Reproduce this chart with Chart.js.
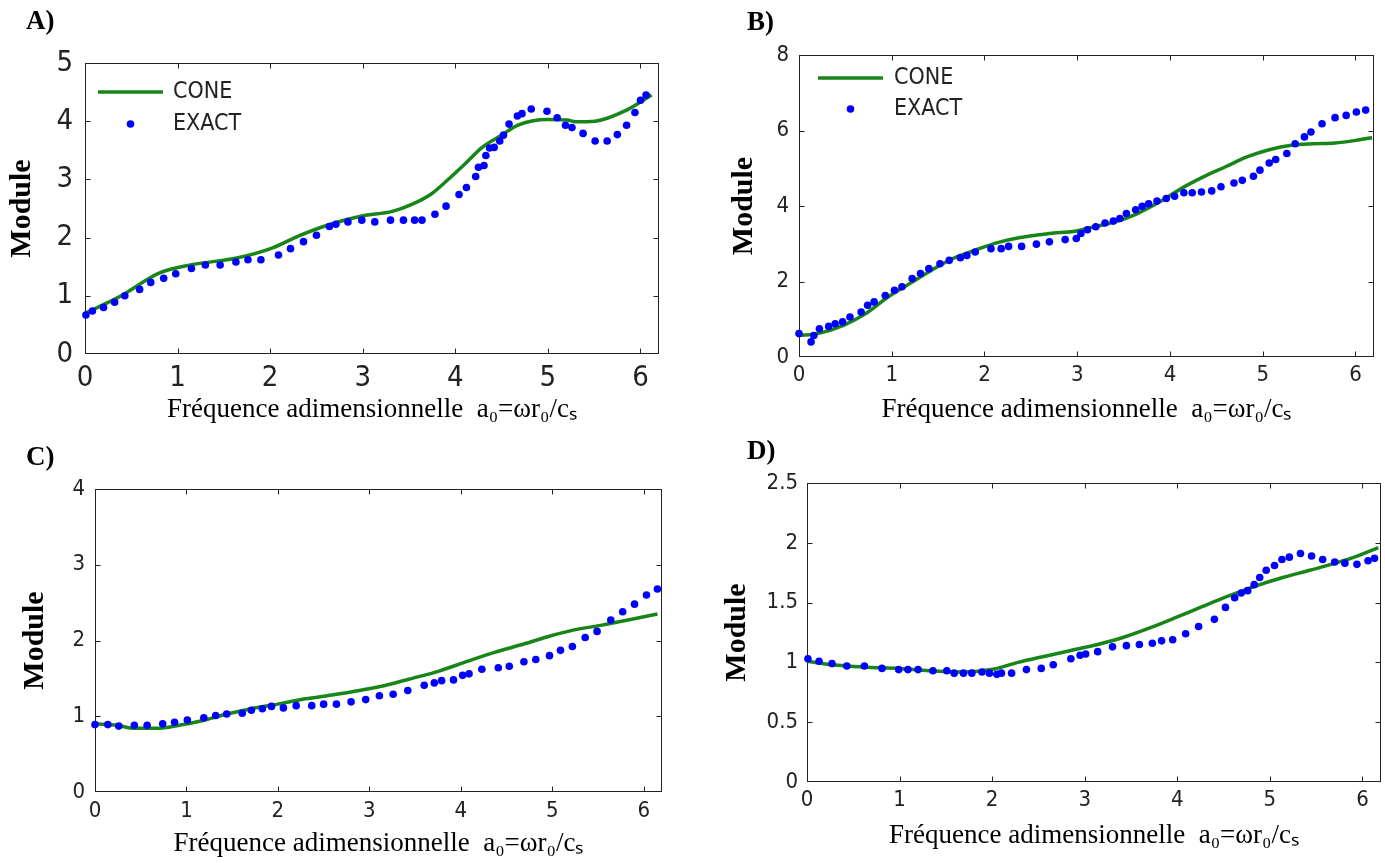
<!DOCTYPE html>
<html lang="fr">
<head>
<meta charset="utf-8">
<title>Module - CONE / EXACT</title>
<script src="https://cdn.jsdelivr.net/npm/chart.js@4.4.1/dist/chart.umd.min.js"></script>
<style>
  html, body { margin: 0; padding: 0; background: #fff; }
  #page { position: relative; width: 1385px; height: 863px; overflow: hidden; }
  .panel { position: absolute; }
  .panel canvas { display: block; }
  .tag { position: absolute; font: bold 27px/27px 'Liberation Serif', 'Times New Roman', serif; color: #000; }
</style>
</head>
<body>
<div id="page">
  <div class="panel" style="left:0;top:0"><canvas id="chartA" width="692" height="432"></canvas></div>
  <div class="panel" style="left:692px;top:0"><canvas id="chartB" width="693" height="432"></canvas></div>
  <div class="panel" style="left:0;top:432px"><canvas id="chartC" width="692" height="431"></canvas></div>
  <div class="panel" style="left:692px;top:432px"><canvas id="chartD" width="693" height="431"></canvas></div>
  <div class="tag" style="left:26px;top:7px">A)</div>
  <div class="tag" style="left:747px;top:8px">B)</div>
  <div class="tag" style="left:26px;top:443px">C)</div>
  <div class="tag" style="left:747px;top:437px">D)</div>
</div>
<script>
// shared axis stuff
const xTicks = [0, 1, 2, 3, 4, 5, 6];
const xMax = 6.2;
const xTitle = 'Fréquence adimensionnelle  a₀=ωr₀/cₛ';
const yTitle = 'Module';
const seriesNames = ['CONE', 'EXACT'];

// A)
const yTicksA = [0, 1, 2, 3, 4, 5];
const freqConeA = [0, 0.38, 0.80, 1.14, 1.64, 2.02, 2.31, 2.65, 2.99, 3.32, 3.53, 3.74, 3.91, 4.12, 4.29, 4.50, 4.67, 5.00, 5.21, 5.30, 5.51, 5.85, 6.12];
const modConeA = [0.70, 0.99, 1.39, 1.53, 1.65, 1.82, 2.03, 2.23, 2.37, 2.45, 2.57, 2.75, 2.98, 3.29, 3.55, 3.76, 3.93, 4.03, 4.02, 3.99, 4.00, 4.19, 4.45];
const freqExactA = [0.01, 0.08, 0.20, 0.32, 0.43, 0.59, 0.71, 0.85, 0.98, 1.15, 1.30, 1.46, 1.63, 1.76, 1.90, 2.09, 2.22, 2.36, 2.50, 2.64, 2.71, 2.84, 2.99, 3.13, 3.30, 3.44, 3.56, 3.64, 3.78, 3.90, 4.04, 4.12, 4.22, 4.25, 4.31, 4.33, 4.37, 4.42, 4.48, 4.52, 4.58, 4.67, 4.72, 4.82, 4.99, 5.10, 5.19, 5.26, 5.38, 5.51, 5.64, 5.75, 5.85, 5.94, 6.00, 6.06];
const modExactA = [0.67, 0.74, 0.80, 0.89, 1.00, 1.11, 1.23, 1.30, 1.38, 1.47, 1.53, 1.53, 1.58, 1.62, 1.62, 1.70, 1.81, 1.93, 2.04, 2.19, 2.23, 2.27, 2.30, 2.27, 2.30, 2.30, 2.30, 2.30, 2.40, 2.54, 2.74, 2.86, 3.05, 3.21, 3.24, 3.41, 3.54, 3.55, 3.66, 3.76, 3.95, 4.09, 4.13, 4.21, 4.17, 4.06, 3.93, 3.89, 3.79, 3.66, 3.66, 3.77, 3.93, 4.15, 4.36, 4.45];

// B)
const yTicksB = [0, 2, 4, 6, 8];
const freqConeB = [0, 0.20, 0.48, 0.72, 0.96, 1.19, 1.43, 1.66, 1.90, 2.14, 2.37, 2.70, 2.99, 3.18, 3.41, 3.65, 3.89, 4.12, 4.36, 4.60, 4.83, 5.07, 5.31, 5.54, 5.78, 6.01, 6.18];
const modConeB = [0.57, 0.62, 0.84, 1.15, 1.59, 1.94, 2.30, 2.61, 2.83, 3.03, 3.16, 3.27, 3.34, 3.45, 3.58, 3.80, 4.11, 4.46, 4.77, 5.04, 5.30, 5.49, 5.61, 5.65, 5.67, 5.74, 5.81];
const freqExactB = [0, 0.13, 0.16, 0.22, 0.32, 0.39, 0.47, 0.55, 0.67, 0.74, 0.81, 0.93, 1.03, 1.11, 1.22, 1.31, 1.40, 1.52, 1.62, 1.74, 1.81, 1.90, 2.07, 2.18, 2.26, 2.40, 2.56, 2.70, 2.87, 2.99, 3.04, 3.11, 3.20, 3.30, 3.39, 3.46, 3.53, 3.63, 3.70, 3.77, 3.86, 3.96, 4.05, 4.15, 4.24, 4.34, 4.45, 4.55, 4.69, 4.78, 4.90, 4.97, 5.07, 5.14, 5.26, 5.35, 5.45, 5.52, 5.64, 5.78, 5.90, 6.01, 6.11];
const modExactB = [0.62, 0.40, 0.57, 0.75, 0.81, 0.88, 0.93, 1.06, 1.19, 1.37, 1.46, 1.63, 1.77, 1.86, 2.08, 2.21, 2.34, 2.47, 2.56, 2.63, 2.69, 2.78, 2.87, 2.87, 2.93, 2.93, 2.99, 3.05, 3.11, 3.14, 3.27, 3.37, 3.45, 3.55, 3.60, 3.67, 3.80, 3.90, 3.99, 4.06, 4.13, 4.20, 4.26, 4.35, 4.35, 4.37, 4.40, 4.51, 4.61, 4.68, 4.79, 4.95, 5.14, 5.23, 5.39, 5.65, 5.83, 5.96, 6.18, 6.34, 6.40, 6.49, 6.54];

// C)
const yTicksC = [0, 1, 2, 3, 4];
const freqConeC = [0, 0.24, 0.43, 0.68, 0.92, 1.17, 1.41, 1.71, 2.00, 2.30, 2.59, 2.89, 3.18, 3.47, 3.77, 4.06, 4.36, 4.65, 4.95, 5.24, 5.53, 5.83, 6.15];
const modConeC = [0.90, 0.88, 0.84, 0.84, 0.88, 0.94, 1.02, 1.10, 1.16, 1.23, 1.28, 1.34, 1.41, 1.50, 1.60, 1.72, 1.84, 1.94, 2.05, 2.14, 2.20, 2.27, 2.35];
const freqExactC = [0, 0.14, 0.26, 0.43, 0.57, 0.74, 0.87, 1.01, 1.19, 1.32, 1.44, 1.61, 1.71, 1.83, 1.93, 2.06, 2.20, 2.37, 2.50, 2.64, 2.80, 2.96, 3.11, 3.26, 3.42, 3.60, 3.71, 3.79, 3.92, 4.02, 4.09, 4.23, 4.41, 4.53, 4.69, 4.82, 4.97, 5.09, 5.22, 5.36, 5.49, 5.64, 5.77, 5.90, 6.03, 6.15];
const modExactC = [0.89, 0.89, 0.87, 0.88, 0.88, 0.90, 0.92, 0.95, 0.98, 1.01, 1.03, 1.04, 1.08, 1.10, 1.13, 1.11, 1.14, 1.14, 1.16, 1.16, 1.19, 1.22, 1.27, 1.29, 1.34, 1.41, 1.44, 1.47, 1.48, 1.54, 1.56, 1.62, 1.64, 1.66, 1.72, 1.75, 1.80, 1.87, 1.92, 2.04, 2.12, 2.27, 2.38, 2.48, 2.60, 2.68];

// D)
const yTicksD = [0, 0.5, 1, 1.5, 2, 2.5];
const freqConeD = [0, 0.27, 0.65, 0.99, 1.32, 1.70, 1.99, 2.28, 2.56, 2.85, 3.14, 3.42, 3.71, 4.00, 4.28, 4.57, 4.85, 5.14, 5.43, 5.71, 5.95, 6.17];
const modConeD = [1.01, 0.98, 0.96, 0.95, 0.93, 0.92, 0.94, 1.00, 1.05, 1.10, 1.15, 1.21, 1.29, 1.38, 1.47, 1.56, 1.64, 1.71, 1.77, 1.83, 1.89, 1.96];
const freqExactD = [0.01, 0.13, 0.27, 0.43, 0.62, 0.81, 0.99, 1.09, 1.20, 1.36, 1.51, 1.59, 1.69, 1.78, 1.89, 1.97, 2.05, 2.10, 2.21, 2.37, 2.53, 2.66, 2.85, 2.95, 3.01, 3.14, 3.30, 3.45, 3.59, 3.73, 3.83, 3.95, 4.09, 4.23, 4.40, 4.52, 4.62, 4.69, 4.76, 4.83, 4.89, 4.96, 5.05, 5.13, 5.21, 5.33, 5.45, 5.57, 5.70, 5.81, 5.94, 6.06, 6.13];
const modExactD = [1.03, 1.01, 0.99, 0.97, 0.97, 0.95, 0.94, 0.94, 0.94, 0.93, 0.93, 0.91, 0.91, 0.91, 0.92, 0.91, 0.90, 0.91, 0.91, 0.94, 0.95, 0.98, 1.03, 1.06, 1.07, 1.09, 1.13, 1.14, 1.15, 1.16, 1.18, 1.19, 1.24, 1.30, 1.36, 1.46, 1.54, 1.58, 1.60, 1.65, 1.71, 1.77, 1.81, 1.86, 1.88, 1.91, 1.89, 1.86, 1.84, 1.83, 1.82, 1.85, 1.87];

const GREEN = '#188518';
const BLUE = '#0000ff';
const INK = '#222';
const NARROW = "'Liberation Sans Narrow', 'Arial Narrow', 'DejaVu Sans Condensed', sans-serif";
const SERIF = "'Liberation Serif', 'Times New Roman', serif";

function zip(xs, ys) {
    return xs.map((x, i) => ({ x: x, y: ys[i] }));
}

// matlab style box with ticks pointing inside
const boxPlugin = {
    id: 'matlabBox',
    beforeDatasetsDraw(chart) {
        const { ctx, chartArea: a, scales } = chart;
        const len = 5;
        const L = Math.round(a.left) + 0.5, R = Math.round(a.right) - 0.5;
        const T = Math.round(a.top) + 0.5, B = Math.round(a.bottom) - 0.5;
        ctx.save();
        ctx.strokeStyle = INK;
        ctx.lineWidth = 1;
        ctx.strokeRect(L, T, R - L, B - T);
        ctx.beginPath();
        scales.x.ticks.forEach(t => {
            const px = Math.round(scales.x.getPixelForValue(t.value)) + 0.5;
            if (px <= L + 1 || px >= R - 1) return;
            ctx.moveTo(px, B); ctx.lineTo(px, B - len);
            ctx.moveTo(px, T); ctx.lineTo(px, T + len);
        });
        scales.y.ticks.forEach(t => {
            const py = Math.round(scales.y.getPixelForValue(t.value)) + 0.5;
            if (py <= T + 1 || py >= B - 1) return;
            ctx.moveTo(L, py); ctx.lineTo(L + len, py);
            ctx.moveTo(R, py); ctx.lineTo(R - len, py);
        });
        ctx.stroke();
        ctx.restore();
    }
};

// legend sitting inside the plot, no frame
const insideLegend = {
    id: 'insideLegend',
    afterDatasetsDraw(chart, args, o) {
        const { ctx, chartArea: a } = chart;
        ctx.save();
        ctx.font = o.fontSize + 'px ' + NARROW;
        ctx.textBaseline = 'middle';
        ctx.fillStyle = INK;
        chart.data.datasets.forEach((ds, i) => {
            const x0 = a.left + o.left;
            const y0 = a.top + o.top + i * o.rowGap;
            if (ds.showLine) {
                ctx.strokeStyle = ds.borderColor;
                ctx.lineWidth = ds.borderWidth;
                ctx.beginPath();
                ctx.moveTo(x0, y0);
                ctx.lineTo(x0 + o.lineLen, y0);
                ctx.stroke();
            } else {
                ctx.fillStyle = ds.backgroundColor;
                ctx.beginPath();
                ctx.arc(x0 + o.lineLen / 2, y0, ds.pointRadius, 0, Math.PI * 2);
                ctx.fill();
            }
            ctx.fillStyle = INK;
            ctx.fillText(ds.label, x0 + o.lineLen + o.textGap, y0);
        });
        ctx.restore();
    }
};

function makePanel(id, p) {
    const plugins = [boxPlugin];
    if (p.legend) plugins.push(insideLegend);

    return new Chart(document.getElementById(id), {
        type: 'scatter',
        data: {
            datasets: [{
                label: seriesNames[0],
                data: zip(p.coneX, p.coneY),
                showLine: true,
                borderColor: GREEN,
                backgroundColor: GREEN,
                borderWidth: 3.5,
                pointRadius: 0,
                cubicInterpolationMode: 'monotone',
                order: 1,
                clip: false
            }, {
                label: seriesNames[1],
                data: zip(p.exactX, p.exactY),
                showLine: false,
                backgroundColor: BLUE,
                borderWidth: 0,
                pointRadius: 3.8,
                order: 0,
                clip: false
            }]
        },
        plugins: plugins,
        options: {
            responsive: false,
            animation: false,
            layout: { padding: { left: 0, top: p.top, right: p.right, bottom: 0 } },
            plugins: {
                legend: { display: false },
                tooltip: { enabled: false },
                insideLegend: p.legend || {}
            },
            scales: {
                x: {
                    type: 'linear',
                    min: 0,
                    max: xMax,
                    afterBuildTicks: s => { s.ticks = xTicks.map(v => ({ value: v })); },
                    afterFit: s => { s.height = p.xAxisH; },
                    grid: { display: false, drawTicks: false },
                    border: { display: false },
                    ticks: {
                        font: { family: NARROW, size: p.tickSize },
                        color: INK,
                        padding: p.xPad,
                        maxRotation: 0,
                        autoSkip: false,
                        callback: v => String(v)
                    },
                    title: {
                        display: true,
                        text: xTitle,
                        color: '#000',
                        font: { family: SERIF, size: 27 },
                        padding: { top: 0, bottom: p.xTitlePad }
                    }
                },
                y: {
                    type: 'linear',
                    min: 0,
                    max: p.yMax,
                    afterBuildTicks: s => { s.ticks = p.yTicks.map(v => ({ value: v })); },
                    afterFit: s => { s.width = p.yAxisW; },
                    grid: { display: false, drawTicks: false },
                    border: { display: false },
                    ticks: {
                        font: { family: NARROW, size: p.tickSize },
                        color: INK,
                        padding: p.yPad,
                        autoSkip: false,
                        callback: v => String(v)
                    },
                    title: {
                        display: true,
                        text: yTitle,
                        color: '#000',
                        font: { family: SERIF, size: 30, weight: 'bold' },
                        padding: { top: p.yTitlePad, bottom: 0 }
                    }
                }
            }
        }
    });
}

makePanel('chartA', {
    coneX: freqConeA, coneY: modConeA, exactX: freqExactA, exactY: modExactA,
    yMax: 5, yTicks: yTicksA,
    top: 63, right: 33, yAxisW: 85, xAxisH: 78,
    tickSize: 29, yPad: 12, xPad: 7, xTitlePad: 6, yTitlePad: 4,
    legend: { left: 13, top: 29, lineLen: 65, textGap: 10, rowGap: 32, fontSize: 23 }
});

makePanel('chartB', {
    coneX: freqConeB, coneY: modConeB, exactX: freqExactB, exactY: modExactB,
    yMax: 8, yTicks: yTicksB,
    top: 55, right: 11, yAxisW: 107, xAxisH: 75,
    tickSize: 22, yPad: 10, xPad: 5, xTitlePad: 6, yTitlePad: 34,
    legend: { left: 19, top: 23, lineLen: 65, textGap: 11, rowGap: 31, fontSize: 23 }
});

makePanel('chartC', {
    coneX: freqConeC, coneY: modConeC, exactX: freqExactC, exactY: modExactC,
    yMax: 4, yTicks: yTicksC,
    top: 57, right: 30, yAxisW: 95, xAxisH: 71,
    tickSize: 22, yPad: 10, xPad: 6, xTitlePad: 3, yTitlePad: 17
});

makePanel('chartD', {
    coneX: freqConeD, coneY: modConeD, exactX: freqExactD, exactY: modExactD,
    yMax: 2.5, yTicks: yTicksD,
    top: 51, right: 3, yAxisW: 115, xAxisH: 81,
    tickSize: 22, yPad: 9, xPad: 5, xTitlePad: 11, yTitlePad: 27
});
</script>
</body>
</html>
